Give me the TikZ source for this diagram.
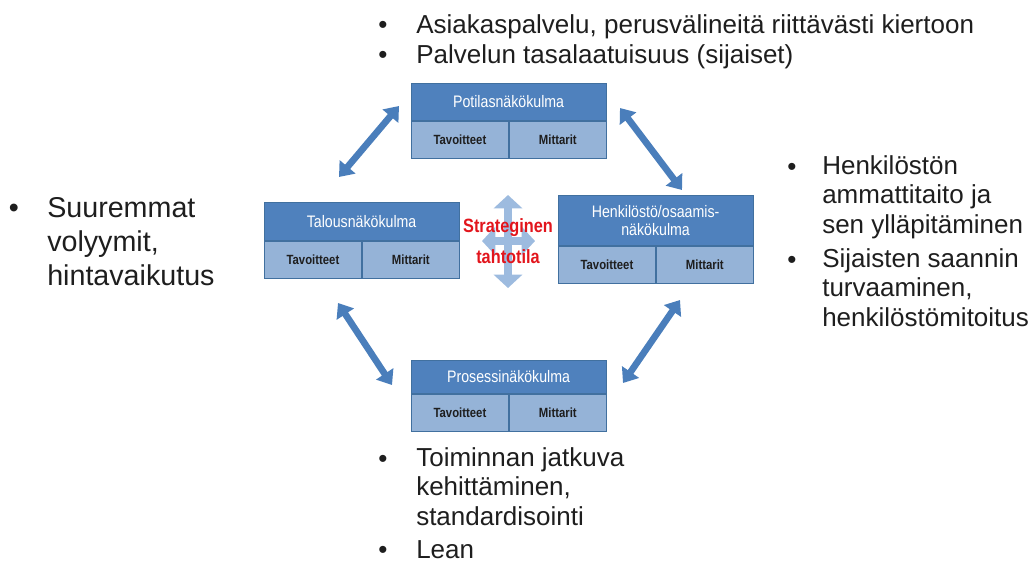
\documentclass[tikz,border=0pt]{standalone}
\usepackage{fontspec}
\setmainfont{Liberation Sans}
\newfontfamily\narrowfont[FakeStretch=0.85]{Liberation Sans}
\usetikzlibrary{positioning,arrows.meta}
\definecolor{hdrblue}{HTML}{4F81BD}
\definecolor{cellblue}{HTML}{95B3D7}
\definecolor{boxline}{HTML}{41709F}
\definecolor{linkblue}{HTML}{4A7EBB}
\definecolor{paleblue}{HTML}{9DBBDF}
\definecolor{goalred}{HTML}{E2151C}
\definecolor{ink}{HTML}{1E1E1E}
\tikzstyle{hdr} = [rectangle, draw=boxline, fill=hdrblue, text=white, minimum width=146pt, inner sep=0pt, align=center, font=\narrowfont\fontsize{12.5}{13.5}\selectfont]
\tikzstyle{cell} = [rectangle, draw=boxline, fill=cellblue, text=ink, minimum width=73pt, minimum height=28pt, inner sep=0pt, font=\narrowfont\bfseries\fontsize{10}{12}\selectfont]
\tikzstyle{viewlink} = [draw=linkblue, line width=5pt, {Triangle[width=15pt,length=10pt]}-{Triangle[width=15pt,length=10pt]}]
\tikzstyle{hubarrow} = [draw=paleblue, line width=6pt, {Triangle[width=21pt,length=10pt]}-{Triangle[width=21pt,length=10pt]}]
\tikzstyle{goal} = [inner sep=0pt, anchor=base, text=goalred, font=\narrowfont\bfseries\fontsize{14.4}{16}\selectfont]
\tikzstyle{itemtext} = [inner sep=0pt, anchor=base west, align=left, text=ink, font=\fontsize{19.5}{21.8}\selectfont]
\tikzstyle{bulletmark} = [inner sep=0pt, anchor=base, text=ink, font=\fontsize{19.5}{21.8}\selectfont]
% one perspective: header + two cells
\newcommand{\viewbox}[5]{%
  \node [hdr, minimum height=#4, anchor=north west] (#1h) at (#2,#3) {#5};
  \node [cell, below right=0pt and 0pt of #1h.south west] (#1t) {Tavoitteet};
  \node [cell, right=0pt of #1t] (#1m) {Mittarit};}

\begin{document}
\begin{tikzpicture}[x=0.75pt, y=-0.75pt]
\useasboundingbox (0,0) rectangle (1032,562);
% perspectives
\viewbox{pot}{411}{83}{27.75pt}{Potilasnäkökulma}
\viewbox{tal}{264}{202}{28.5pt}{Talousnäkökulma}
\viewbox{hen}{558}{195}{37.5pt}{Henkilöstö/osaamis-\\näkökulma}
\viewbox{pro}{411}{360}{24.75pt}{Prosessinäkökulma}
% links between perspectives
\coordinate (tlA) at (339,177); \coordinate (tlB) at (399,106);
\coordinate (trA) at (620,108); \coordinate (trB) at (682,190);
\coordinate (blA) at (338,303); \coordinate (blB) at (392,385);
\coordinate (brA) at (680,300); \coordinate (brB) at (623,383);
\draw [viewlink] (tlA) -- (tlB);
\draw [viewlink] (trA) -- (trB);
\draw [viewlink] (blA) -- (blB);
\draw [viewlink] (brA) -- (brB);
% strategic target in the middle
\coordinate (hubN) at (508,195); \coordinate (hubS) at (508,288);
\coordinate (hubW) at (482,241); \coordinate (hubE) at (535,241);
\draw [hubarrow] (hubN) -- (hubS);
\draw [hubarrow] (hubW) -- (hubE);
\node [goal] (goalA) at (508,232) {Strateginen};
\node [goal] (goalB) at (508,263) {tahtotila};
% bullet texts (multi-line nodes sit on their last baseline)
\node [bulletmark] (potD1) at (383,33) {•};
\node [itemtext] (potI1) at (416,33) {Asiakaspalvelu, perusvälineitä riittävästi kiertoon};
\node [bulletmark] (potD2) at (383,63) {•};
\node [itemtext] (potI2) at (416,63) {Palvelun tasalaatuisuus (sijaiset)};
\node [bulletmark, font=\fontsize{21.5}{25.5}\selectfont] (talD1) at (14,217) {•};
\node [itemtext, font=\fontsize{21.5}{25.5}\selectfont] (talI1) at (47,285) {Suuremmat\\volyymit,\\hintavaikutus};
\node [bulletmark] (henD1) at (792,175) {•};
\node [itemtext] (henI1) at (822,233) {Henkilöstön\\ammattitaito ja\\sen ylläpitäminen};
\node [bulletmark] (henD2) at (792,268) {•};
\node [itemtext] (henI2) at (822,326) {Sijaisten saannin\\turvaaminen,\\henkilöstömitoitus};
\node [bulletmark] (proD1) at (383,467) {•};
\node [itemtext] (proI1) at (416,525) {Toiminnan jatkuva\\kehittäminen,\\standardisointi};
\node [bulletmark] (proD2) at (383,558) {•};
\node [itemtext] (proI2) at (416,558) {Lean};
\end{tikzpicture}
\end{document}
